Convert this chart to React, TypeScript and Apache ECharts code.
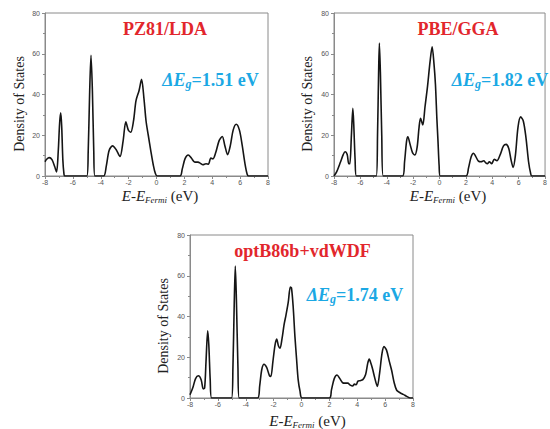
import React, { useEffect, useRef } from "react";
import * as echarts from "echarts";

// ---------- data ----------
const LDA_E = [-8, -7.88, -7.7, -7.5, -7.3, -7.17, -7.05, -6.95, -6.87, -6.8, -6.72, -6.64, -6.58, -5.0, -4.9, -4.8, -4.7, -4.6, -4.5, -4.42, -3.8, -3.6, -3.4, -3.15, -2.9, -2.62, -2.4, -2.2, -2.02, -1.85, -1.65, -1.47, -1.25, -1.07, -0.9, -0.75, -0.59, -0.4, -0.23, -0.08, 0.05, 1.68, 1.85, 2.05, 2.28, 2.5, 2.75, 2.98, 3.15, 3.33, 3.55, 3.72, 3.9, 4.05, 4.25, 4.5, 4.72, 4.9, 5.1, 5.3, 5.5, 5.72, 5.95, 6.15, 6.35, 6.5, 6.6, 8];
const LDA_DOS = [7, 8.2, 9, 8, 4.5, 2, 12, 26, 31, 24, 8, 1, 0, 0, 12, 40, 59.3, 42, 12, 0, 0, 5, 12.5, 14.8, 13, 9.6, 17, 26.6, 22.5, 21.5, 27, 37, 42, 47.4, 38, 27, 20, 12, 5.4, 1.2, 0, 0, 3.5, 8.5, 10.3, 8.8, 6.8, 6.8, 6.2, 5.5, 6, 5.8, 8.8, 8.4, 11.5, 17.5, 19.4, 15, 10.5, 15, 22.5, 25.4, 22.5, 15, 6, 1, 0, 0];

const PBE_E = [-8, -7.8, -7.5, -7.3, -7.16, -7.0, -6.88, -6.8, -6.68, -6.57, -6.5, -6.4, -6.3, -4.8, -4.7, -4.62, -4.56, -4.48, -4.38, -4.27, -2.8, -2.65, -2.5, -2.4, -2.25, -2.05, -1.87, -1.7, -1.55, -1.44, -1.27, -1.1, -0.91, -0.72, -0.56, -0.42, -0.31, -0.2, -0.12, -0.03, 0.05, 2.0, 2.2, 2.4, 2.58, 2.75, 2.95, 3.15, 3.35, 3.5, 3.62, 3.78, 3.95, 4.15, 4.35, 4.6, 4.85, 5.05, 5.25, 5.42, 5.58, 5.75, 5.95, 6.15, 6.35, 6.55, 6.75, 6.9, 7.0, 8];
const PBE_DOS = [0, 2, 7, 10.5, 11.9, 10.5, 6, 6, 20, 33.2, 25, 8, 0, 0, 20, 50, 65.3, 50, 20, 0, 0, 7, 17, 19.3, 16, 11.5, 10.3, 14, 24, 28.3, 25, 34, 44, 56, 63.4, 55, 45, 28, 17.6, 5, 0, 0, 4, 9.5, 11.2, 9.5, 7.3, 7, 7.5, 6.5, 6, 7, 6, 8.2, 7.5, 10.5, 14.8, 15.5, 13.5, 8, 4.2, 10, 24, 29, 27, 19, 7, 1.5, 0, 0];

const OPT_E = [-8, -7.8, -7.6, -7.4, -7.2, -7.05, -6.95, -6.85, -6.73, -6.65, -6.55, -6.45, -5.02, -4.92, -4.83, -4.75, -4.67, -4.56, -4.47, -3.15, -3.0, -2.85, -2.69, -2.5, -2.3, -2.2, -2.05, -1.9, -1.78, -1.65, -1.54, -1.4, -1.25, -1.11, -0.95, -0.8, -0.72, -0.6, -0.47, -0.35, -0.24, -0.11, 0.05, 2.0, 2.15, 2.35, 2.55, 2.75, 2.95, 3.15, 3.32, 3.5, 3.67, 3.8, 3.92, 4.05, 4.2, 4.4, 4.6, 4.75, 4.86, 4.98, 5.1, 5.25, 5.44, 5.6, 5.78, 5.92, 6.1, 6.3, 6.47, 6.65, 6.83, 7.07, 7.3, 7.55, 7.8, 8];
const OPT_DOS = [1.6, 5, 9.5, 10.9, 9, 4.5, 5, 18, 33, 26, 9, 0, 0, 15, 45, 64.8, 48, 15, 0, 0, 6, 14, 16.6, 15, 11, 10.6, 18, 26, 28.9, 25.5, 24.5, 29, 36, 40.8, 47, 54.5, 54, 45, 30, 18.8, 9, 3.5, 0, 0, 4, 9.5, 11.3, 9.5, 7.5, 7.3, 7.3, 6.3, 5.9, 6.8, 6.5, 8.3, 8.5, 9.0, 11.5, 17, 19.1, 17, 14.2, 10, 5.7, 12, 22, 25.2, 23.5, 18, 13.5, 7.5, 3.8, 2.6, 1.8, 0.8, 0, 0];

const TITLES = ["PZ81/LDA", "PBE/GGA", "optB86b+vdWDF"];
const GAPS = ["1.51", "1.82", "1.74"];
const X_MIN = -8, X_MAX = 8, X_STEP = 2;
const Y_MIN = 0, Y_MAX = 80, Y_STEP = 20;
const Y_LABEL = "Density of States";

const SERIES_E = [LDA_E, PBE_E, OPT_E];
const SERIES_DOS = [LDA_DOS, PBE_DOS, OPT_DOS];

// ---------- layout ----------
const GRIDS = [
  { left: 45, top: 13 },
  { left: 334, top: 13 },
  { left: 190, top: 235 },
];
const GW = 223, GH = 163;
const TITLE_POS = [[165, 29], [458, 29], [302.5, 251]];
const GAP_POS = [[210.5, 80], [500, 80], [355, 295]];
const XNAME_POS = [[160, 195.5], [448, 195.5], [307.5, 420.5]];
const YNAME_POS = [[19.5, 104], [307.5, 104], [163.5, 326]];

const RED = "#e2262c";
const BLUE = "#1ba8e4";
const AX = "#8a8a8a";
const SERIF = '"Liberation Serif", "Times New Roman", serif';
const SANS = '"Liberation Sans", Arial, sans-serif';

export default function App() {
  const ref = useRef<HTMLDivElement>(null);
  useEffect(() => {
    if (!ref.current) return;
    const chart = echarts.init(ref.current, undefined, { renderer: "svg" });
    const grid = GRIDS.map((g) => ({
      left: g.left, top: g.top, width: GW, height: GH,
      show: true, borderColor: AX, borderWidth: 1, backgroundColor: "transparent",
    }));
    const xAxis = GRIDS.map((_, i) => ({
      type: "value", gridIndex: i, min: X_MIN, max: X_MAX, interval: X_STEP,
      axisLine: { show: true, onZero: false, lineStyle: { color: AX, width: 1 } },
      axisTick: { show: true, length: 3, lineStyle: { color: AX } },
      minorTick: { show: true, splitNumber: 2, length: 2, lineStyle: { color: AX } },
      splitLine: { show: false },
      axisLabel: { fontSize: 7, color: "#555", margin: 3, fontFamily: SANS },
    }));
    const yAxis = GRIDS.map((_, i) => ({
      type: "value", gridIndex: i, min: Y_MIN, max: Y_MAX, interval: Y_STEP,
      axisLine: { show: true, onZero: false, lineStyle: { color: AX, width: 1 } },
      axisTick: { show: true, length: 3, lineStyle: { color: AX } },
      minorTick: { show: true, splitNumber: 2, length: 2, lineStyle: { color: AX } },
      splitLine: { show: false },
      axisLabel: { fontSize: 7, color: "#555", margin: 5, fontFamily: SANS },
    }));
    const series = SERIES_E.map((E, i) => ({
      type: "line", xAxisIndex: i, yAxisIndex: i,
      data: E.map((e, k) => [e, SERIES_DOS[i][k]]),
      smooth: 0.3, showSymbol: false, clip: true,
      lineStyle: { color: "#151515", width: 1.6 },
    }));
    const graphic: any[] = [];
    for (let i = 0; i < 3; i++) {
      graphic.push({
        type: "text", x: TITLE_POS[i][0], y: TITLE_POS[i][1],
        style: {
          text: TITLES[i], fill: RED, align: "center", verticalAlign: "middle",
          font: `bold 18px ${SERIF}`,
        },
      });
      graphic.push({
        type: "text", x: GAP_POS[i][0], y: GAP_POS[i][1],
        style: {
          text: `{a|ΔE}{b|g}{c|=${GAPS[i]} eV}`,
          align: "center", verticalAlign: "middle",
          rich: {
            a: { fontSize: 18, fontWeight: "bold", fontStyle: "italic", fontFamily: SERIF, fill: BLUE, lineHeight: 20 },
            b: { fontSize: 12, fontWeight: "bold", fontStyle: "italic", fontFamily: SERIF, fill: BLUE, lineHeight: 8, verticalAlign: "bottom" },
            c: { fontSize: 18, fontWeight: "bold", fontFamily: SERIF, fill: BLUE, lineHeight: 20 },
          },
        },
      });
      graphic.push({
        type: "text", x: XNAME_POS[i][0], y: XNAME_POS[i][1],
        style: {
          text: "{i|E}{n|-}{i|E}{s|Fermi}{n| (eV)}",
          align: "center", verticalAlign: "middle",
          rich: {
            i: { fontSize: 15, fontStyle: "italic", fontFamily: SERIF, fill: "#222", lineHeight: 18 },
            n: { fontSize: 15, fontFamily: SERIF, fill: "#222", lineHeight: 18 },
            s: { fontSize: 9, fontStyle: "italic", fontFamily: SERIF, fill: "#222", lineHeight: 6, verticalAlign: "bottom" },
          },
        },
      });
      graphic.push({
        type: "text", x: YNAME_POS[i][0], y: YNAME_POS[i][1], rotation: Math.PI / 2,
        style: {
          text: Y_LABEL, fill: "#222", align: "center", verticalAlign: "middle",
          font: `14px ${SERIF}`,
        },
      });
    }
    chart.setOption({ animation: false, grid, xAxis, yAxis, series, graphic });
    return () => chart.dispose();
  }, []);
  return (
    <div
      ref={ref}
      style={{ position: "fixed", left: 0, top: 0, width: 550, height: 429, background: "#fff" }}
    />
  );
}
